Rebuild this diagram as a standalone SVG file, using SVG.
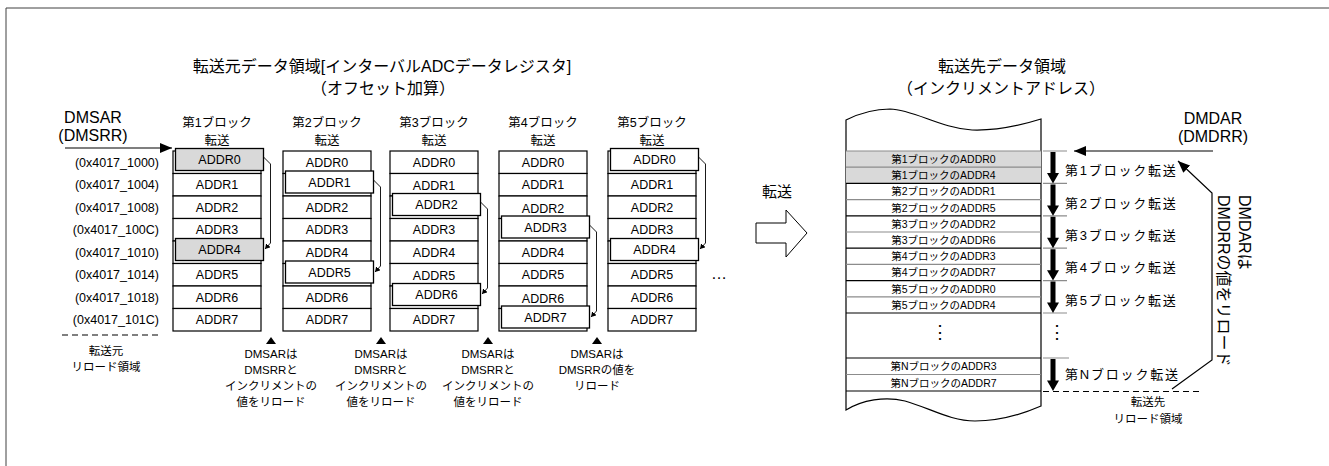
<svg xmlns="http://www.w3.org/2000/svg" width="1329" height="466" viewBox="0 0 1329 466">
<style>
text{font-family:"Liberation Sans","Noto Sans CJK JP",sans-serif;fill:#000}
.t16{font-size:16px}
.h{font-size:12.5px;text-anchor:middle}
.a{font-size:12.5px;text-anchor:middle}
.ad{font-size:12.5px;text-anchor:end}
.b{font-size:11.5px;text-anchor:middle}
.p{font-size:10.5px;text-anchor:middle}
.bl{font-size:13px;letter-spacing:1.8px}
.cell{fill:#fff;stroke:#000;stroke-width:1.2}
.ovw{fill:#fff;stroke:#000;stroke-width:1.3}
.ovg{fill:#d9d9d9;stroke:#000;stroke-width:1.3}
.thin{fill:none;stroke:#000;stroke-width:0.9}
.ln{fill:none;stroke:#000;stroke-width:1.2}
.gl{fill:none;stroke:#8c8c8c;stroke-width:1.2}
.tick{fill:none;stroke:#8c8c8c;stroke-width:1.2}
.dash{fill:none;stroke:#000;stroke-width:1.2;stroke-dasharray:6 4}
</style>
<defs>
<marker id="sm" markerUnits="userSpaceOnUse" markerWidth="6" markerHeight="6" refX="5" refY="3" orient="auto"><path d="M0,0 L5,3 L0,6 Z" fill="#000"/></marker>
<marker id="big" markerUnits="userSpaceOnUse" markerWidth="13" markerHeight="10" refX="12" refY="5" orient="auto"><path d="M0,0 L12,5 L0,10 Z" fill="#000"/></marker>
</defs>

<!-- frame -->
<path d="M6,466 L6,8 L1329,8" fill="none" stroke="#404040" stroke-width="1"/>

<!-- titles -->
<g id="title-src">
<text class="t16" x="382" y="72" text-anchor="middle">転送元データ領域[インターバルADCデータレジスタ]</text>
<text class="t16" x="383" y="94" text-anchor="middle">（オフセット加算）</text>
</g>
<g id="title-dst">
<text class="t16" x="1002" y="72" text-anchor="middle">転送先データ領域</text>
<text class="t16" x="1001" y="94" text-anchor="middle">（インクリメントアドレス）</text>
</g>

<g id="dmsar-label">
<text class="t16" x="93" y="123" text-anchor="middle">DMSAR</text>
<text class="t16" x="93" y="141" text-anchor="middle">(DMSRR)</text>
</g>

<g id="addresses">
<text class="ad" x="159" y="166.7">(0x4017_1000)</text>
<text class="ad" x="159" y="189.2">(0x4017_1004)</text>
<text class="ad" x="159" y="211.7">(0x4017_1008)</text>
<text class="ad" x="159" y="234.2">(0x4017_100C)</text>
<text class="ad" x="159" y="256.7">(0x4017_1010)</text>
<text class="ad" x="159" y="279.2">(0x4017_1014)</text>
<text class="ad" x="159" y="301.7">(0x4017_1018)</text>
<text class="ad" x="159" y="324.2">(0x4017_101C)</text>
</g>

<g id="src-reload">
<path class="dash" d="M62,335 L160,335"/>
<text class="b" x="106" y="355">転送元</text>
<text class="b" x="106" y="371">リロード領域</text>
</g>

<!-- column 1 -->
<g id="col1">
<text class="h" x="217" y="127">第1ブロック</text>
<text class="h" x="217" y="145">転送</text>
<rect class="cell" x="173" y="151" width="88" height="22.5"/>
<rect class="cell" x="173" y="173.5" width="88" height="22.5"/>
<rect class="cell" x="173" y="196" width="88" height="22.5"/>
<rect class="cell" x="173" y="218.5" width="88" height="22.5"/>
<rect class="cell" x="173" y="241" width="88" height="22.5"/>
<rect class="cell" x="173" y="263.5" width="88" height="22.5"/>
<rect class="cell" x="173" y="286" width="88" height="22.5"/>
<rect class="cell" x="173" y="308.5" width="88" height="22.5"/>
<text class="a" x="217" y="189.2">ADDR1</text>
<text class="a" x="217" y="211.7">ADDR2</text>
<text class="a" x="217" y="234.2">ADDR3</text>
<text class="a" x="217" y="279.2">ADDR5</text>
<text class="a" x="217" y="301.7">ADDR6</text>
<text class="a" x="217" y="324.2">ADDR7</text>
<rect class="ovg" x="175.5" y="148.5" width="88" height="22"/>
<text class="a" x="219.5" y="164">ADDR0</text>
<rect class="ovg" x="175.5" y="238.5" width="88" height="22"/>
<text class="a" x="219.5" y="254">ADDR4</text>
</g>

<!-- column 2 -->
<g id="col2">
<text class="h" x="327" y="127">第2ブロック</text>
<text class="h" x="327" y="145">転送</text>
<rect class="cell" x="283" y="151" width="88" height="22.5"/>
<rect class="cell" x="283" y="173.5" width="88" height="22.5"/>
<rect class="cell" x="283" y="196" width="88" height="22.5"/>
<rect class="cell" x="283" y="218.5" width="88" height="22.5"/>
<rect class="cell" x="283" y="241" width="88" height="22.5"/>
<rect class="cell" x="283" y="263.5" width="88" height="22.5"/>
<rect class="cell" x="283" y="286" width="88" height="22.5"/>
<rect class="cell" x="283" y="308.5" width="88" height="22.5"/>
<text class="a" x="327" y="166.7">ADDR0</text>
<text class="a" x="327" y="211.7">ADDR2</text>
<text class="a" x="327" y="234.2">ADDR3</text>
<text class="a" x="327" y="256.7">ADDR4</text>
<text class="a" x="327" y="301.7">ADDR6</text>
<text class="a" x="327" y="324.2">ADDR7</text>
<rect class="ovw" x="285.5" y="171" width="88" height="22"/>
<text class="a" x="329.5" y="186.5">ADDR1</text>
<rect class="ovw" x="285.5" y="261" width="88" height="22"/>
<text class="a" x="329.5" y="276.5">ADDR5</text>
</g>

<!-- column 3 -->
<g id="col3">
<text class="h" x="434" y="127">第3ブロック</text>
<text class="h" x="434" y="145">転送</text>
<rect class="cell" x="390" y="151" width="88" height="22.5"/>
<rect class="cell" x="390" y="173.5" width="88" height="22.5"/>
<rect class="cell" x="390" y="196" width="88" height="22.5"/>
<rect class="cell" x="390" y="218.5" width="88" height="22.5"/>
<rect class="cell" x="390" y="241" width="88" height="22.5"/>
<rect class="cell" x="390" y="263.5" width="88" height="22.5"/>
<rect class="cell" x="390" y="286" width="88" height="22.5"/>
<rect class="cell" x="390" y="308.5" width="88" height="22.5"/>
<text class="a" x="434" y="166.7">ADDR0</text>
<text class="a" x="434" y="190">ADDR1</text>
<text class="a" x="434" y="234.2">ADDR3</text>
<text class="a" x="434" y="256.7">ADDR4</text>
<text class="a" x="434" y="280">ADDR5</text>
<text class="a" x="434" y="324.2">ADDR7</text>
<rect class="ovw" x="392.5" y="193.5" width="88" height="22"/>
<text class="a" x="436.5" y="209">ADDR2</text>
<rect class="ovw" x="392.5" y="283.5" width="88" height="22"/>
<text class="a" x="436.5" y="299">ADDR6</text>
</g>

<!-- column 4 -->
<g id="col4">
<text class="h" x="543" y="127">第4ブロック</text>
<text class="h" x="543" y="145">転送</text>
<rect class="cell" x="499" y="151" width="88" height="22.5"/>
<rect class="cell" x="499" y="173.5" width="88" height="22.5"/>
<rect class="cell" x="499" y="196" width="88" height="22.5"/>
<rect class="cell" x="499" y="218.5" width="88" height="22.5"/>
<rect class="cell" x="499" y="241" width="88" height="22.5"/>
<rect class="cell" x="499" y="263.5" width="88" height="22.5"/>
<rect class="cell" x="499" y="286" width="88" height="22.5"/>
<rect class="cell" x="499" y="308.5" width="88" height="22.5"/>
<text class="a" x="543" y="166.7">ADDR0</text>
<text class="a" x="543" y="189.2">ADDR1</text>
<text class="a" x="543" y="212.5">ADDR2</text>
<text class="a" x="543" y="256.7">ADDR4</text>
<text class="a" x="543" y="279.2">ADDR5</text>
<text class="a" x="543" y="302.5">ADDR6</text>
<rect class="ovw" x="501.5" y="216" width="88" height="22"/>
<text class="a" x="545.5" y="231.5">ADDR3</text>
<rect class="ovw" x="501.5" y="306" width="88" height="22"/>
<text class="a" x="545.5" y="321.5">ADDR7</text>
</g>

<!-- column 5 -->
<g id="col5">
<text class="h" x="652" y="127">第5ブロック</text>
<text class="h" x="652" y="145">転送</text>
<rect class="cell" x="608" y="151" width="88" height="22.5"/>
<rect class="cell" x="608" y="173.5" width="88" height="22.5"/>
<rect class="cell" x="608" y="196" width="88" height="22.5"/>
<rect class="cell" x="608" y="218.5" width="88" height="22.5"/>
<rect class="cell" x="608" y="241" width="88" height="22.5"/>
<rect class="cell" x="608" y="263.5" width="88" height="22.5"/>
<rect class="cell" x="608" y="286" width="88" height="22.5"/>
<rect class="cell" x="608" y="308.5" width="88" height="22.5"/>
<text class="a" x="652" y="189.2">ADDR1</text>
<text class="a" x="652" y="211.7">ADDR2</text>
<text class="a" x="652" y="234.2">ADDR3</text>
<text class="a" x="652" y="279.2">ADDR5</text>
<text class="a" x="652" y="301.7">ADDR6</text>
<text class="a" x="652" y="324.2">ADDR7</text>
<rect class="ovw" x="610.5" y="148.5" width="88" height="22"/>
<text class="a" x="654.5" y="164">ADDR0</text>
<rect class="ovw" x="610.5" y="238.5" width="88" height="22"/>
<text class="a" x="654.5" y="254">ADDR4</text>
</g>

<text id="more" x="719" y="279" font-size="16" text-anchor="middle">…</text>

<!-- reload notes -->
<g id="note1">
<path d="M266,344 L271,337 L276,344 Z" fill="#000"/>
<text class="b" x="271" y="357.5">DMSARは</text>
<text class="b" x="271" y="373.5">DMSRRと</text>
<text class="b" x="271" y="390">インクリメントの</text>
<text class="b" x="271" y="406">値をリロード</text>
</g>
<g id="note2">
<path d="M376,344 L381,337 L386,344 Z" fill="#000"/>
<text class="b" x="381" y="357.5">DMSARは</text>
<text class="b" x="381" y="373.5">DMSRRと</text>
<text class="b" x="381" y="390">インクリメントの</text>
<text class="b" x="381" y="406">値をリロード</text>
</g>
<g id="note3">
<path d="M483,344 L488,337 L493,344 Z" fill="#000"/>
<text class="b" x="488" y="357.5">DMSARは</text>
<text class="b" x="488" y="373.5">DMSRRと</text>
<text class="b" x="488" y="390">インクリメントの</text>
<text class="b" x="488" y="406">値をリロード</text>
</g>
<g id="note4">
<path d="M592,344 L597,337 L602,344 Z" fill="#000"/>
<text class="b" x="597" y="357.5">DMSARは</text>
<text class="b" x="597" y="373.5">DMSRRの値を</text>
<text class="b" x="597" y="390">リロード</text>
</g>

<!-- transfer arrow -->
<g id="transfer">
<text x="777" y="197" font-size="15" text-anchor="middle">転送</text>
<path d="M756,223 L786,223 L786,210 L807,233 L786,257 L786,243 L756,243 Z" fill="#fff" stroke="#000" stroke-width="1"/>
</g>

<!-- destination memory -->
<g id="dst-memory">
<path d="M846,120 C862,112 876,109 890,109 C915,110 940,128 972,130 C1000,131 1025,124 1041,119 L1041,406 C1025,413 1000,421 975,421 C950,421 930,408 905,401 C885,396 862,400 846,410 Z" fill="#fff" stroke="#000" stroke-width="1.2"/>
<rect x="846" y="151" width="195" height="32.4" fill="#d9d9d9"/>
<path class="gl" d="M846,151 H1041" stroke-width="1.8"/>
<path class="gl" d="M846,167.2 H1041 M846,199.6 H1041 M846,232 H1041 M846,264.4 H1041 M846,296.8 H1041 M846,374.5 H1041"/>
<path class="ln" d="M846,183.4 H1041 M846,215.8 H1041 M846,248.2 H1041 M846,280.6 H1041 M846,313 H1041 M846,358 H1041 M846,391 H1041"/>
<text class="p" x="943.5" y="163">第1ブロックのADDR0</text>
<text class="p" x="943.5" y="179.2">第1ブロックのADDR4</text>
<text class="p" x="943.5" y="195.4">第2ブロックのADDR1</text>
<text class="p" x="943.5" y="211.6">第2ブロックのADDR5</text>
<text class="p" x="943.5" y="227.8">第3ブロックのADDR2</text>
<text class="p" x="943.5" y="244">第3ブロックのADDR6</text>
<text class="p" x="943.5" y="260.2">第4ブロックのADDR3</text>
<text class="p" x="943.5" y="276.4">第4ブロックのADDR7</text>
<text class="p" x="943.5" y="292.6">第5ブロックのADDR0</text>
<text class="p" x="943.5" y="308.8">第5ブロックのADDR4</text>
<text x="940" y="338" font-size="18" font-family="DejaVu Sans" text-anchor="middle">⋮</text>
<text class="p" x="943.5" y="370">第NブロックのADDR3</text>
<text class="p" x="943.5" y="386.5">第NブロックのADDR7</text>
</g>

<g id="block-labels">
<text class="bl" x="1065" y="175">第1ブロック転送</text>
<text class="bl" x="1065" y="207.5">第2ブロック転送</text>
<text class="bl" x="1065" y="240">第3ブロック転送</text>
<text class="bl" x="1065" y="272">第4ブロック転送</text>
<text class="bl" x="1065" y="304.5">第5ブロック転送</text>
<text x="1057" y="338" font-size="18" font-family="DejaVu Sans" text-anchor="middle">⋮</text>
<text class="bl" x="1065" y="379">第Nブロック転送</text>
</g>

<g id="dmdar-label">
<text class="t16" x="1213" y="124" text-anchor="middle">DMDAR</text>
<text class="t16" x="1213" y="142" text-anchor="middle">(DMDRR)</text>
</g>

<g id="reload-note">
<text class="t16" transform="translate(1239,195) rotate(90)">DMDARは</text>
<text class="t16" transform="translate(1218,195) rotate(90)">DMDRRの値をリロード</text>
</g>

<g id="dst-reload">
<path class="dash" d="M1043,391.5 L1202,391.5"/>
<text class="b" x="1148" y="406">転送先</text>
<text class="b" x="1148" y="423">リロード領域</text>
</g>

<!-- connectors -->
<g id="connectors">
<path class="ln" d="M65,148 L172,148" marker-end="url(#big)"/>
<path class="thin" d="M263.5,157 L270.5,164 L270.5,243 L265,249" marker-end="url(#sm)"/>
<path class="thin" d="M373.5,180 L380.5,187 L380.5,266 L375,272" marker-end="url(#sm)"/>
<path class="thin" d="M480.5,202 L487.5,209 L487.5,288 L482,294" marker-end="url(#sm)"/>
<path class="thin" d="M589.5,225 L596.5,232 L596.5,311 L591,317" marker-end="url(#sm)"/>
<path class="thin" d="M698.5,157 L705.5,164 L705.5,243 L700,249" marker-end="url(#sm)"/>
<path class="tick" d="M1043,151 H1067 M1043,183.4 H1067 M1043,215.8 H1067 M1043,248.2 H1067 M1043,280.6 H1067 M1043,313 H1067 M1043,358 H1069"/>
<g fill="#000">
<path d="M1050.5,152 H1055.5 V173 H1059 L1053,183.4 L1047,173 H1050.5 Z"/>
<path d="M1050.5,184.4 H1055.5 V205.4 H1059 L1053,215.8 L1047,205.4 H1050.5 Z"/>
<path d="M1050.5,216.8 H1055.5 V237.8 H1059 L1053,248.2 L1047,237.8 H1050.5 Z"/>
<path d="M1050.5,249.2 H1055.5 V270.2 H1059 L1053,280.6 L1047,270.2 H1050.5 Z"/>
<path d="M1050.5,281.6 H1055.5 V302.6 H1059 L1053,313 L1047,302.6 H1050.5 Z"/>
<path d="M1050.5,359 H1055.5 V380.5 H1059 L1053,391 L1047,380.5 H1050.5 Z"/>
</g>
<path class="ln" d="M1213,151 L1074,151" marker-end="url(#big)"/>
<path class="ln" d="M1172,389 L1212,360 L1212,193 L1178,161" marker-end="url(#big)"/>
</g>
</svg>
